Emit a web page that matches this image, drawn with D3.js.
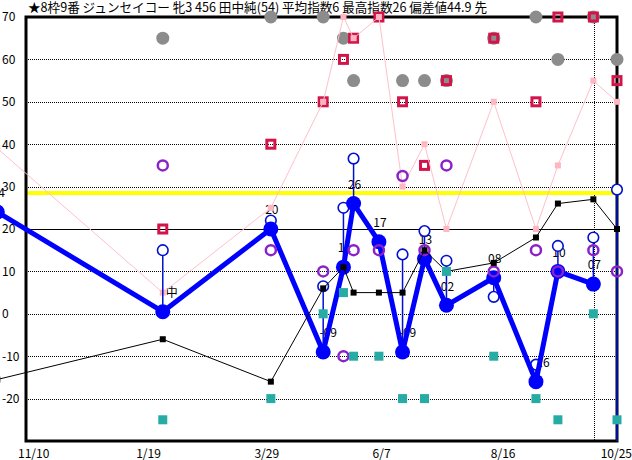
<!DOCTYPE html>
<html><head><meta charset="utf-8">
<script src="https://cdn.jsdelivr.net/npm/d3@7"></script>
<style>
body{margin:0;background:#fff;}
svg{display:block;font-family:"Noto Sans CJK JP","DejaVu Sans",sans-serif;}
</style>
</head><body><svg id="c" width="632" height="460"></svg>
<script>
const title = "★8枠9番 ジュンセイコー 牝3 456 田中純(54) 平均指数6 最高指数26 偏差値44.9 先";
const raceDates = ["2023-10-24","2024-01-30","2024-04-03","2024-05-04","2024-05-16","2024-05-22","2024-06-06","2024-06-20","2024-07-03","2024-07-16","2024-08-13","2024-09-07","2024-09-20","2024-10-11","2024-10-25"];
const indexVals  = [24, 0.5, 20, -9, 11, 26, 17, -9, 13, 2, 8.5, -16, 10, 7, null];
const indexLabels = ["24","中","20","-09","11","26","17","-09","13","02","08","-16","10","07",""];
const openVals   = [null, 15, 22, 6.5, 25, 36.6, null, 14, 19.5, 12.5, 4, -12, 16, 18, 29.3];
const purpleVals = [null, 35, 15, 10, -10, 15, 15, 32.5, 15, 35, 10, 15, 10, 15, 10];
const redVals    = [null, 20, 40, 50, 60, 65, 70, 50, 35, 55, 65, 50, 70, 70, 55];
const grayVals   = [null, 65, 70, 70, 65, 55, null, 55, 55, 55, 65, 70, 60, 70, 60];
const pinkVals   = [39, 5, 25, 50, 70, 65, 70, 30, 40, 20, 50, 20, 35, 55, 50];
const blackVals  = [-15.5, -6, -16, 6, 11, 5, 5, 5, 15, 10, 12, 18, 26, 27, 20];
const tealVals   = [null, -25, -20, 0, 5, -10, -10, -20, -20, 10, -10, -20, -25, 0, -25];
const yellowLevel = 28.5;
const baseLevel = 20;
const yTicks = [70, 60, 50, 40, 30, 20, 10, 0, -10, -20];
const xTickDates = ["2023-11-10","2024-01-19","2024-03-29","2024-06-07","2024-08-16","2024-10-25"];
const xTickLabels = ["11/10","1/19","3/29","6/7","8/16","10/25"];
const xStart = "2023-11-10", xEnd = "2024-10-25";
const gridDivisions = 26;

const parse = d3.utcParse("%Y-%m-%d");
const W = 632, H = 460;
const L = 26, R = 617, T = 17, B = 441;
const x = d3.scaleUtc().domain([parse(xStart), parse(xEnd)]).range([L, R]);
const y = d3.scaleLinear().domain([-30, 70]).range([B, T]);

const races = raceDates.map((d, i) => ({
  date: parse(d), idx: indexVals[i], lab: indexLabels[i], open: openVals[i],
  purple: purpleVals[i], red: redVals[i], gray: grayVals[i], pink: pinkVals[i],
  black: blackVals[i], teal: tealVals[i]
}));

const svg = d3.select("#c");

// grid
const interp = d3.interpolateDate(parse(xStart), parse(xEnd));
const gridX = d3.range(1, gridDivisions).map(k => interp(k / gridDivisions));
const g = svg.append("g");
g.selectAll("line.vg").data(gridX).join("line")
  .attr("x1", d => Math.round(x(d)) + 0.5).attr("x2", d => Math.round(x(d)) + 0.5)
  .attr("y1", T).attr("y2", B)
  .attr("stroke", "#000").attr("stroke-width", 1).attr("stroke-dasharray", "1,1");
g.selectAll("line.hg").data(yTicks.filter(v => v !== 70 && v !== baseLevel)).join("line")
  .attr("x1", L).attr("x2", R)
  .attr("y1", d => Math.round(y(d)) + 0.5).attr("y2", d => Math.round(y(d)) + 0.5)
  .attr("stroke", "#000").attr("stroke-width", 1).attr("stroke-dasharray", "1,1");

// reference lines
svg.append("line").attr("x1", L).attr("x2", R)
  .attr("y1", y(yellowLevel)).attr("y2", y(yellowLevel))
  .attr("stroke", "#ffff00").attr("stroke-width", 4);
svg.append("line").attr("x1", L).attr("x2", R)
  .attr("y1", Math.round(y(baseLevel)) + 0.5).attr("y2", Math.round(y(baseLevel)) + 0.5)
  .attr("stroke", "#000").attr("stroke-width", 1);

// border
svg.append("path")
  .attr("d", `M${L},${B}V${T}H${R}V${B}Z`)
  .attr("fill", "none").attr("stroke", "#000").attr("stroke-width", 3);

// axis labels
svg.selectAll("text.yl").data(yTicks).join("text")
  .attr("x", 2).attr("y", d => y(d)).attr("dy", "0.36em")
  .attr("font-size", 12).attr("fill", "#000").text(d => d);
svg.selectAll("text.xl").data(xTickDates).join("text")
  .attr("x", (d, i) => i === xTickDates.length - 1 ? W : x(parse(d)) - 8)
  .attr("text-anchor", (d, i) => i === xTickDates.length - 1 ? "end" : "start")
  .attr("y", 458).attr("font-size", 12).attr("fill", "#000")
  .text((d, i) => xTickLabels[i]);
svg.append("text").attr("x", 28).attr("y", 12).attr("font-size", 12.6).attr("fill", "#000").text(title);

// gray circles
svg.selectAll("circle.gray").data(races.filter(r => r.gray != null)).join("circle")
  .attr("cx", r => x(r.date)).attr("cy", r => y(r.gray)).attr("r", 6.5).attr("fill", "#8c8c8c");
// red squares
svg.selectAll("rect.red").data(races.filter(r => r.red != null)).join("rect")
  .attr("x", r => x(r.date) - 4).attr("y", r => y(r.red) - 4).attr("width", 8).attr("height", 8)
  .attr("fill", "none").attr("stroke", "#d3144a").attr("stroke-width", 3);

// labels of index
svg.selectAll("text.lab").data(races.filter(r => r.idx != null && r.lab)).join("text")
  .attr("x", r => x(r.date) + (r.lab === "中" ? 9 : (r.lab[0] === "-" ? 5 : 1)))
  .attr("y", r => y(r.idx) - 19).attr("dy", "0.36em").attr("text-anchor", "middle")
  .attr("font-size", 12).attr("fill", "#000").text(r => r.lab);

// pink
const pinkLine = d3.line().defined(r => r.pink != null).x(r => x(r.date)).y(r => y(r.pink));
svg.append("path").attr("d", pinkLine(races)).attr("fill", "none").attr("stroke", "#ffc0cb").attr("stroke-width", 1);
svg.selectAll("rect.pink").data(races.filter(r => r.pink != null)).join("rect")
  .attr("x", r => x(r.date) - 3).attr("y", r => y(r.pink) - 3).attr("width", 6).attr("height", 6)
  .attr("fill", "#ffb6c1");

// blue thin lines & open circles
svg.selectAll("line.bt").data(races.filter(r => r.open != null)).join("line")
  .attr("x1", r => x(r.date)).attr("x2", r => x(r.date))
  .attr("y1", r => r.idx != null ? y(r.idx) : B).attr("y2", r => y(r.open))
  .attr("stroke", "#0010d0").attr("stroke-width", 1.5);
svg.selectAll("circle.open").data(races.filter(r => r.open != null)).join("circle")
  .attr("cx", r => x(r.date)).attr("cy", r => y(r.open)).attr("r", 5.3)
  .attr("fill", "#fff").attr("stroke", "#0010d0").attr("stroke-width", 1.6);

// blue thick
const blueLine = d3.line().defined(r => r.idx != null).x(r => x(r.date)).y(r => y(r.idx));
svg.append("path").attr("d", blueLine(races)).attr("fill", "none").attr("stroke", "#0000ff")
  .attr("stroke-width", 5).attr("stroke-linejoin", "round");
svg.selectAll("circle.big").data(races.filter(r => r.idx != null)).join("circle")
  .attr("cx", r => x(r.date)).attr("cy", r => y(r.idx)).attr("r", 7.5).attr("fill", "#0000ff");

// purple
svg.selectAll("circle.pur").data(races.filter(r => r.purple != null)).join("circle")
  .attr("cx", r => x(r.date)).attr("cy", r => y(r.purple)).attr("r", 5)
  .attr("fill", "none").attr("stroke", "#8b22c8").attr("stroke-width", 2.5);

// black
const blackLine = d3.line().defined(r => r.black != null).x(r => x(r.date)).y(r => y(r.black));
svg.append("path").attr("d", blackLine(races)).attr("fill", "none").attr("stroke", "#000").attr("stroke-width", 1);
svg.selectAll("rect.blk").data(races.filter(r => r.black != null)).join("rect")
  .attr("x", r => x(r.date) - 3).attr("y", r => y(r.black) - 3).attr("width", 6).attr("height", 6)
  .attr("fill", "#000");

// teal
svg.selectAll("rect.teal").data(races.filter(r => r.teal != null)).join("rect")
  .attr("x", r => x(r.date) - 4.5).attr("y", r => y(r.teal) - 4.5).attr("width", 9).attr("height", 9)
  .attr("fill", "#26aba5");
</script>
</body></html>
